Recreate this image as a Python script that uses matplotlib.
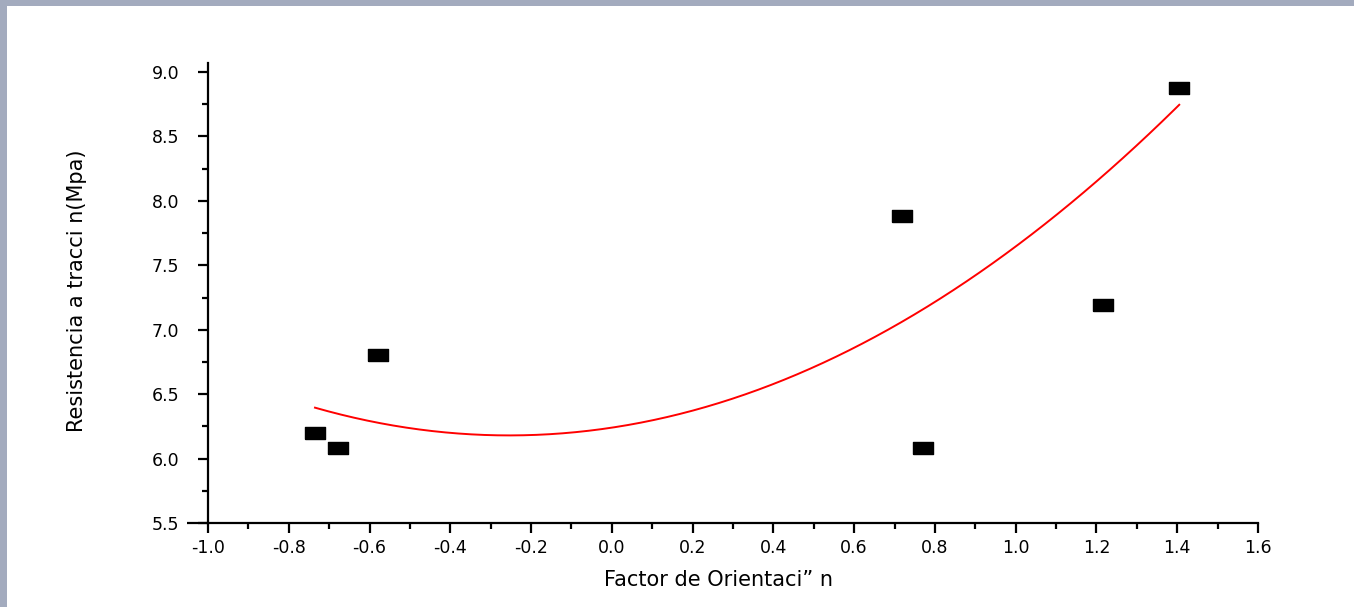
import numpy as np
import matplotlib
matplotlib.use("Agg")
import matplotlib.pyplot as plt
from matplotlib.patches import Rectangle
from matplotlib.ticker import MultipleLocator


# Resistencia a tracción frente al factor de orientación

orientacion = [-0.735, -0.678, -0.579, 0.719, 0.771, 1.216, 1.405]
resistencia = [6.20, 6.08, 6.80, 7.88, 6.08, 7.19, 8.875]

# ajuste polinomial de segundo grado (c2, c1, c0)
ajuste_coef = [0.932, 0.474, 6.24]

x_ticks = [-1.0, -0.8, -0.6, -0.4, -0.2, 0.0, 0.2, 0.4, 0.6, 0.8, 1.0, 1.2, 1.4, 1.6]
y_ticks = [5.5, 6.0, 6.5, 7.0, 7.5, 8.0, 8.5, 9.0]


def plot_resistencia():
    fig = plt.figure(figsize=(13.54, 6.07), dpi=100)
    fig.patch.set_facecolor('#a3abbe')

    # panel blanco sobre el fondo de la diapositiva
    fig.patches.append(Rectangle((7 / 1354, 0), 1, 1 - 6 / 607,
                                 transform=fig.transFigure,
                                 facecolor='white', edgecolor='none', zorder=-10))

    ax = fig.add_axes([0.1536, 0.1384, 0.7755, 0.7578])
    ax.set_facecolor('none')

    # rectángulo negro como marcador
    rect = [(-1, -0.55), (1, -0.55), (1, 0.55), (-1, 0.55), (-1, -0.55)]
    ax.plot(orientacion, resistencia, linestyle='none', marker=rect,
            markersize=14.5, color='black', zorder=3)

    xs = np.linspace(min(orientacion), max(orientacion), 200)
    ax.plot(xs, np.polyval(ajuste_coef, xs), color='red', lw=1.4, zorder=2)

    ax.set_xlim(-1.0, 1.6)
    ax.set_ylim(5.5, 9.07)
    ax.set_xticks(x_ticks)
    ax.set_yticks(y_ticks)
    ax.set_xticklabels([f'{v:.1f}' for v in x_ticks])
    ax.set_yticklabels([f'{v:.1f}' for v in y_ticks])
    ax.xaxis.set_minor_locator(MultipleLocator(0.1))
    ax.yaxis.set_minor_locator(MultipleLocator(0.25))

    for side in ['top', 'right']:
        ax.spines[side].set_visible(False)
    for side in ['left', 'bottom']:
        ax.spines[side].set_linewidth(1.6)

    ax.tick_params(which='major', direction='out', length=7.5, width=1.6,
                   labelsize=12.5)
    ax.tick_params(which='minor', direction='out', length=4, width=1.6)
    ax.tick_params(axis='x', which='major', pad=4)
    ax.tick_params(axis='y', which='major', pad=13)

    # el eje x se prolonga un poco a la izquierda del eje y
    ax.plot([-0.02, 0], [0, 0], transform=ax.transAxes, color='black',
            lw=1.6, clip_on=False, solid_capstyle='butt')

    ax.set_xlabel('Factor de Orientaci\u201d n', fontsize=15)
    ax.xaxis.set_label_coords(0.486, -0.103)
    ax.set_ylabel('Resistencia a tracci n(Mpa)', fontsize=15)
    ax.yaxis.set_label_coords(-0.115, 0.505)

    fig.savefig('out.png', dpi=100, facecolor=fig.get_facecolor())


if __name__ == '__main__':
    plot_resistencia()
